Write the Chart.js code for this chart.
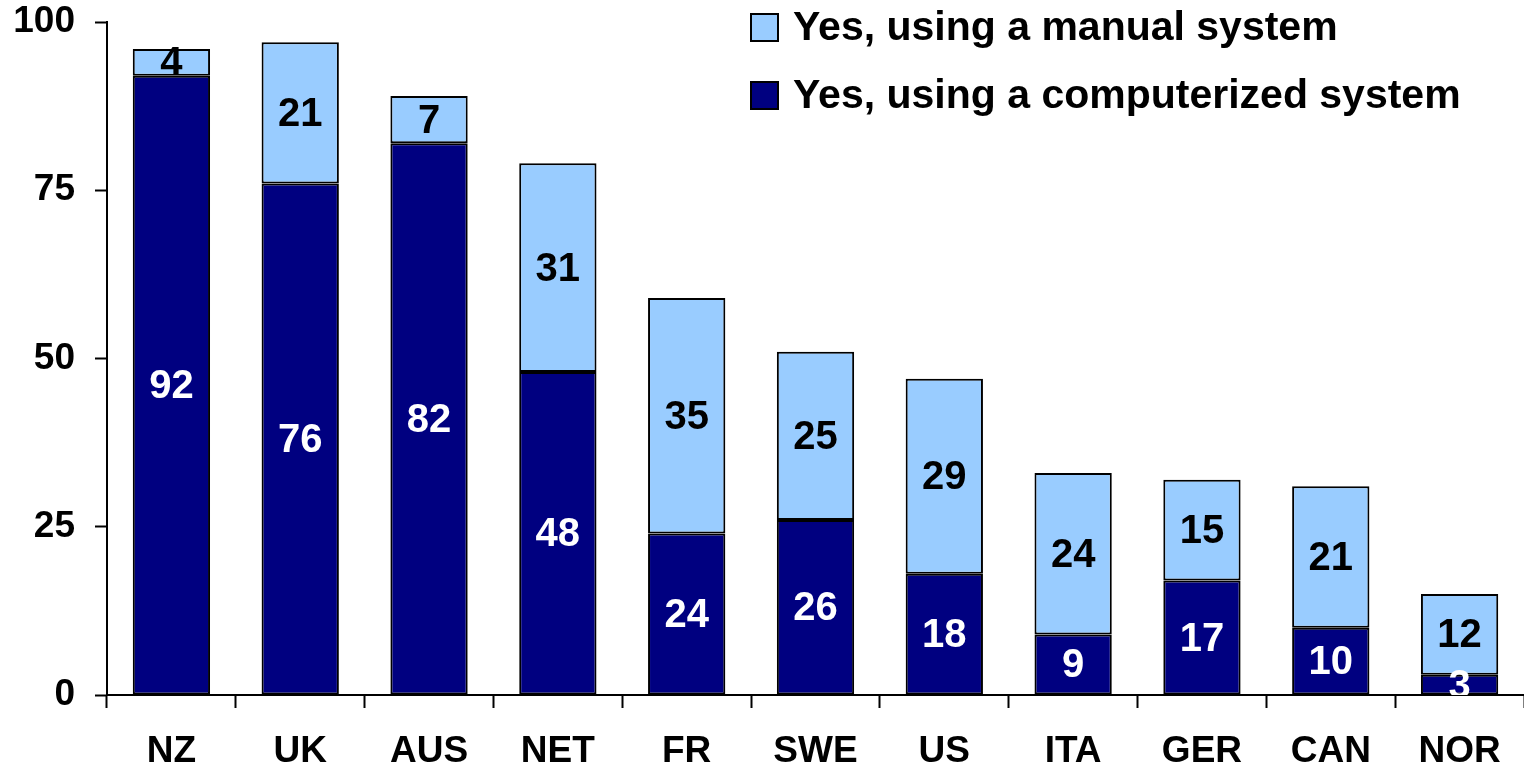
<!DOCTYPE html>
<html>
<head>
<meta charset="utf-8">
<script src="https://cdn.jsdelivr.net/npm/chart.js"></script>
<style>
    body { margin: 0; background: #fff; }
    #wrap { width: 1524px; height: 768px; }
</style>
</head>
<body>
<div id="wrap"><canvas id="chart" width="1524" height="768"></canvas></div>
<script>
// Datos del gráfico
const countries = ['NZ', 'UK', 'AUS', 'NET', 'FR', 'SWE', 'US', 'ITA', 'GER', 'CAN', 'NOR'];
const computerized = [92, 76, 82, 48, 24, 26, 18, 9, 17, 10, 3];
const manual = [4, 21, 7, 31, 35, 25, 29, 24, 15, 21, 12];
const yTicks = [0, 25, 50, 75, 100];

const FONT = 'Liberation Sans, Arial, sans-serif';

// Etiquetas de valor dentro de cada segmento
const valueLabels = {
    id: 'valueLabels',
    afterDatasetsDraw(chart) {
        const ctx = chart.ctx;
        const area = chart.chartArea;
        ctx.save();
        ctx.beginPath();
        ctx.rect(area.left, area.top - 30, area.right - area.left, area.bottom - area.top + 30);
        ctx.clip();
        ctx.font = 'bold 40px ' + FONT;
        ctx.textAlign = 'center';
        ctx.textBaseline = 'middle';
        chart.data.datasets.forEach((ds, i) => {
            const meta = chart.getDatasetMeta(i);
            meta.data.forEach((bar, j) => {
                const y = (bar.y + bar.base) / 2;
                ctx.fillStyle = ds.labelColor;
                ctx.fillText(String(ds.data[j]), bar.x, y + 2);
            });
        });
        ctx.restore();
    }
};

// Leyenda dibujada a mano arriba a la derecha
const customLegend = {
    id: 'customLegend',
    afterDraw(chart) {
        const ctx = chart.ctx;
        const items = [chart.data.datasets[1], chart.data.datasets[0]];
        ctx.save();
        ctx.font = 'bold 41px ' + FONT;
        ctx.textAlign = 'left';
        ctx.textBaseline = 'middle';
        items.forEach((ds, i) => {
            const cy = 27 + i * 68;
            ctx.fillStyle = ds.backgroundColor;
            ctx.fillRect(751, cy - 13, 27, 27);
            ctx.lineWidth = 2;
            ctx.strokeStyle = '#000';
            ctx.strokeRect(751, cy - 13, 27, 27);
            ctx.fillStyle = '#000';
            ctx.fillText(ds.label, 793, cy + 2);
        });
        ctx.restore();
    }
};

new Chart(document.getElementById('chart').getContext('2d'), {
    type: 'bar',
    data: {
        labels: countries,
        datasets: [
            {
                label: 'Yes, using a computerized system',
                data: computerized,
                backgroundColor: '#000080',
                borderColor: '#000',
                borderWidth: 2,
                borderSkipped: false,
                labelColor: '#fff',
                barPercentage: 0.6,
                categoryPercentage: 1
            },
            {
                label: 'Yes, using a manual system',
                data: manual,
                backgroundColor: '#99CCFF',
                borderColor: '#000',
                borderWidth: 2,
                borderSkipped: false,
                labelColor: '#000',
                barPercentage: 0.6,
                categoryPercentage: 1
            }
        ]
    },
    options: {
        responsive: false,
        animation: false,
        layout: { padding: { top: 22, right: 0, left: 0, bottom: 0 } },
        plugins: {
            legend: { display: false },
            tooltip: { enabled: false }
        },
        scales: {
            x: {
                stacked: true,
                grid: {
                    display: true,
                    drawOnChartArea: false,
                    offset: true,
                    tickLength: 13,
                    tickWidth: 2,
                    tickColor: '#000'
                },
                border: { display: true, color: '#000', width: 2 },
                ticks: {
                    color: '#000',
                    padding: 22,
                    font: { family: FONT, size: 37, weight: 'bold' }
                },
                afterFit(scale) {
                    scale.height = 73;
                    scale.paddingLeft = 0;
                    scale.paddingRight = 0;
                }
            },
            y: {
                stacked: true,
                min: 0,
                max: 100,
                afterBuildTicks(scale) {
                    scale.ticks = yTicks.map(v => ({ value: v }));
                },
                grid: {
                    display: true,
                    drawOnChartArea: false,
                    tickLength: 12,
                    tickWidth: 2,
                    tickColor: '#000'
                },
                border: { display: true, color: '#000', width: 2 },
                ticks: {
                    color: '#000',
                    padding: 20,
                    font: { family: FONT, size: 37, weight: 'bold' }
                },
                afterFit(scale) {
                    scale.width = 107;
                    scale.paddingTop = 0;
                    scale.paddingBottom = 0;
                }
            }
        }
    },
    plugins: [valueLabels, customLegend]
});
</script>
</body>
</html>
